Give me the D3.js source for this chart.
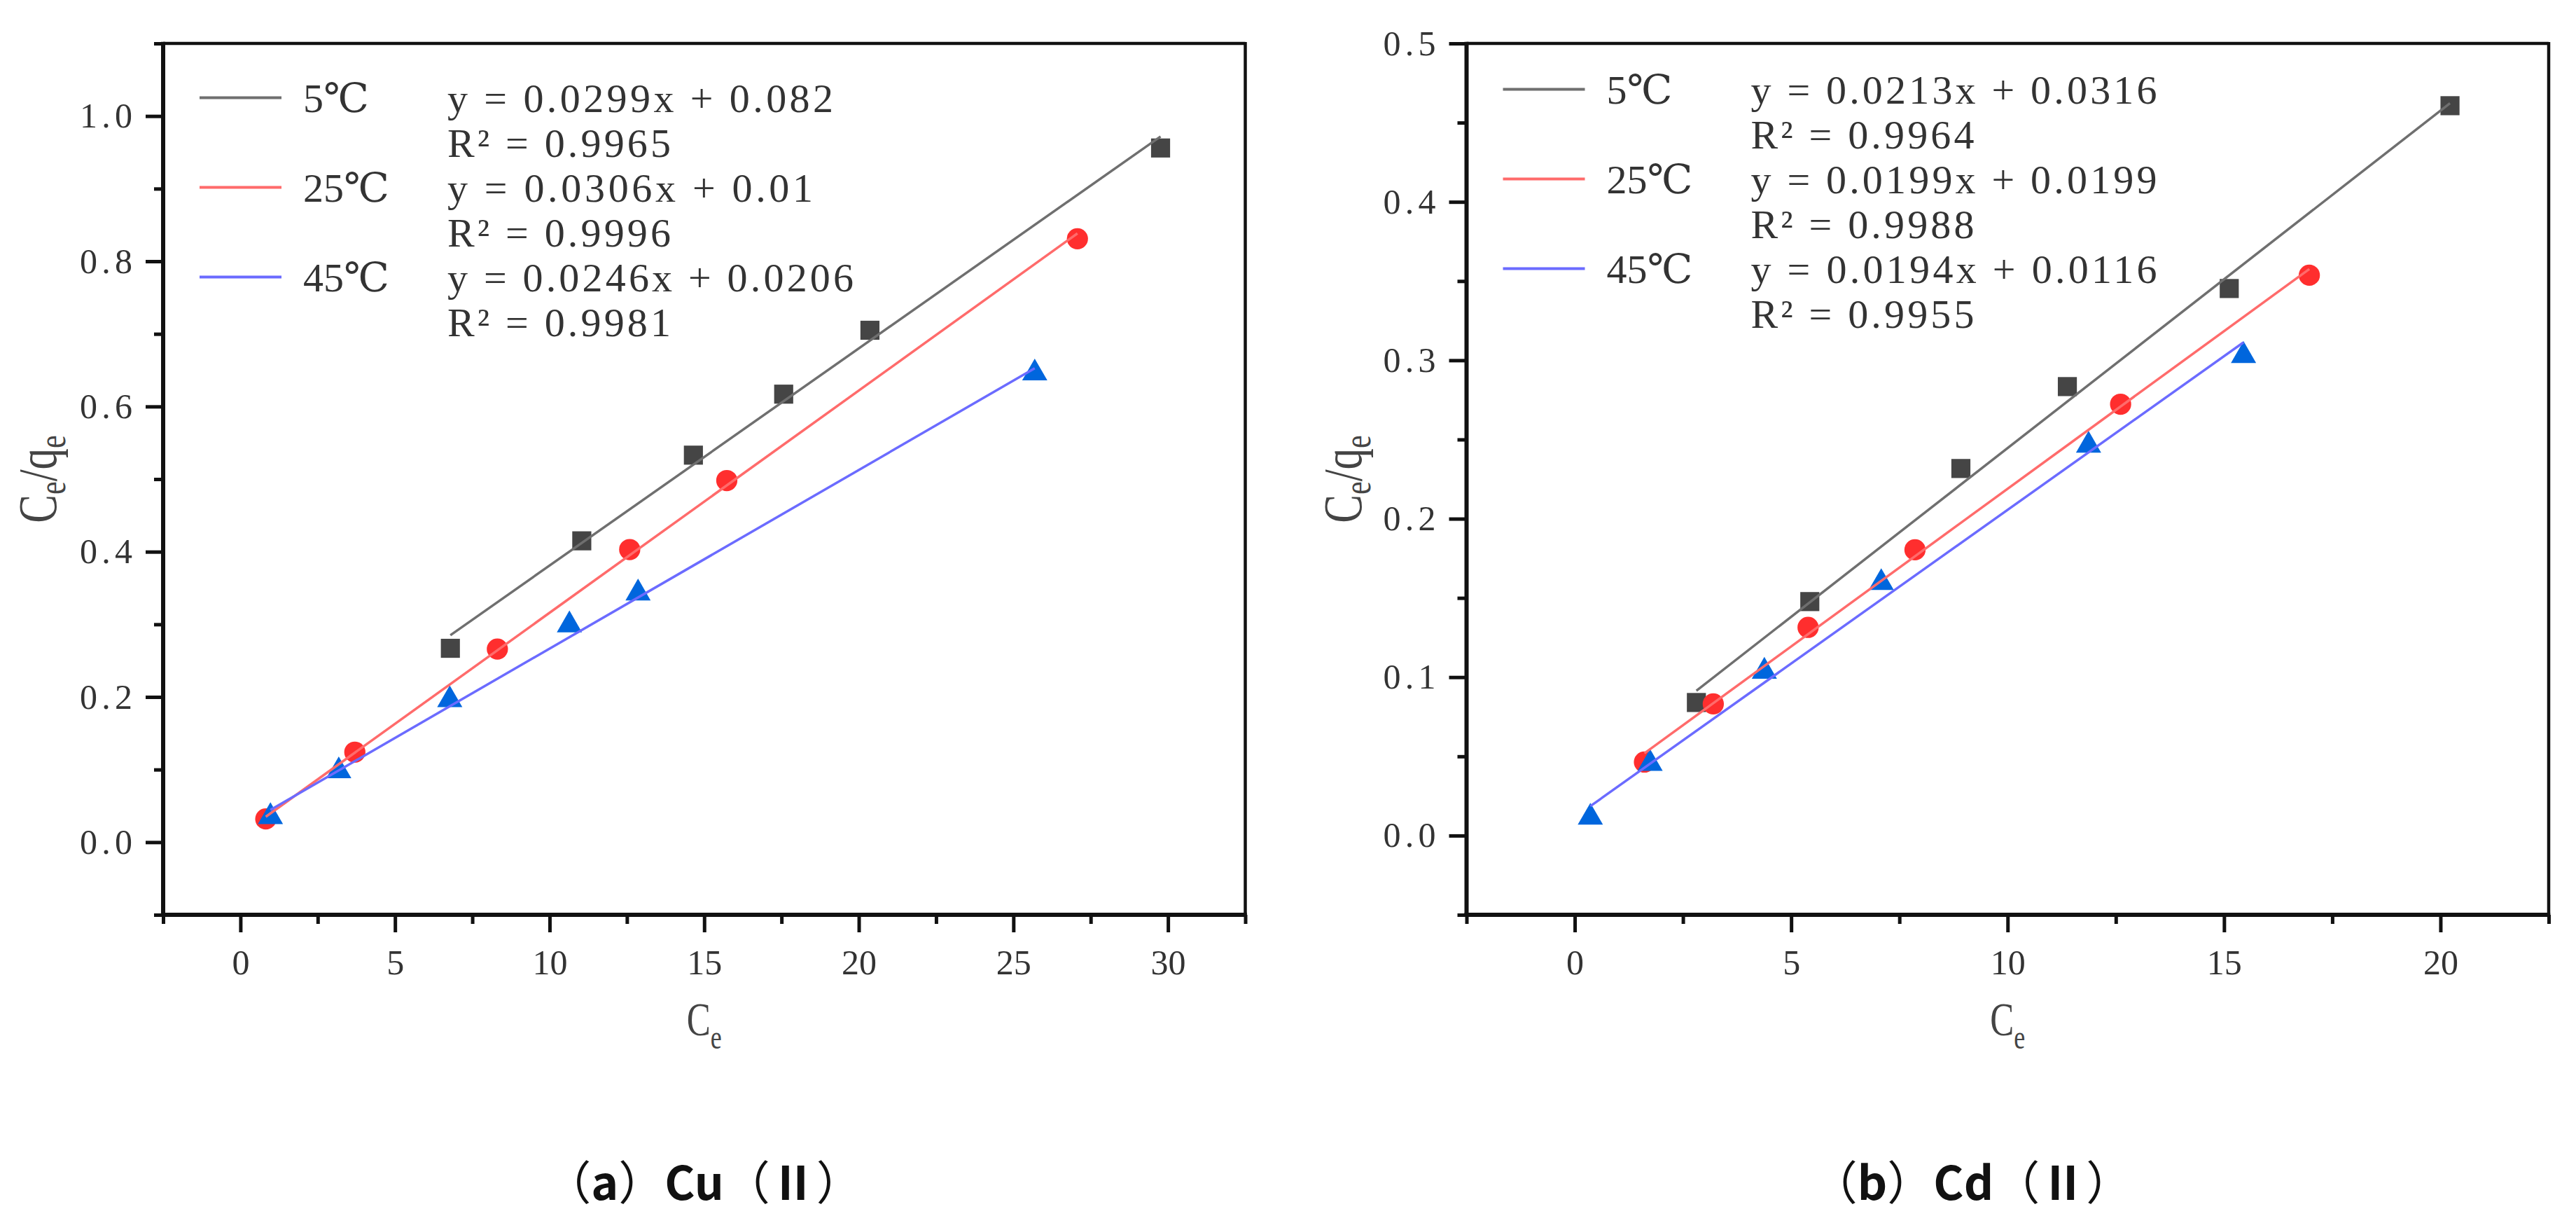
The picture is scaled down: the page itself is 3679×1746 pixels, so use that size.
<!DOCTYPE html>
<html><head><meta charset="utf-8">
<script src="https://cdn.jsdelivr.net/npm/d3@7"></script>
<style>body{margin:0;background:#fff}svg{display:block}</style>
</head><body>
<script>
// ---------------- data ----------------
const tempLabels = ["5℃", "25℃", "45℃"];

// (a) Cu(II)
const cuX5  = [6.79, 11.04, 14.65, 17.57, 20.36, 29.76];
const cuY5  = [0.267, 0.415, 0.533, 0.617, 0.705, 0.956];
const cuX25 = [0.82, 3.70, 8.31, 12.59, 15.73, 27.07];
const cuY25 = [0.032, 0.124, 0.266, 0.403, 0.498, 0.831];
const cuX45 = [0.97, 3.18, 6.77, 10.64, 12.86, 25.69];
const cuY45 = [0.035, 0.098, 0.196, 0.299, 0.343, 0.646];
const cuSlope = [0.0299, 0.0306, 0.0246];
const cuIntercept = [0.082, 0.01, 0.0206];
const cuR2 = ["0.9965", "0.9996", "0.9981"];
const cuXTicks = [0, 5, 10, 15, 20, 25, 30];
const cuYTicks = [0.0, 0.2, 0.4, 0.6, 0.8, 1.0];

// (b) Cd(II)
const cdX5  = [2.81, 5.43, 8.92, 11.38, 15.12, 20.22];
const cdY5  = [0.084, 0.1477, 0.2317, 0.2834, 0.3453, 0.4607];
const cdX25 = [1.61, 3.20, 5.39, 7.86, 12.61, 16.97];
const cdY25 = [0.0464, 0.0831, 0.1314, 0.1804, 0.2723, 0.3537];
const cdX45 = [0.36, 1.74, 4.38, 7.08, 11.87, 15.45];
const cdY45 = [0.0115, 0.0455, 0.1036, 0.1596, 0.2463, 0.3029];
const cdSlope = [0.0213, 0.0199, 0.0194];
const cdIntercept = [0.0316, 0.0199, 0.0116];
const cdR2 = ["0.9964", "0.9988", "0.9955"];
const cdXTicks = [0, 5, 10, 15, 20];
const cdYTicks = [0.0, 0.1, 0.2, 0.3, 0.4, 0.5];

const captionParts = [["（", "a", "）", "Cu", "（", "Ⅱ", "）"],
                      ["（", "b", "）", "Cd", "（", "Ⅱ", "）"]];

// ---------------- styles ----------------
const lineColors = ["#6f6f6f", "#ff6b6b", "#6b6bff"];
const markColors = ["#454545", "#ff2e2e", "#0066dd"];
const markShapes = [d3.symbolSquare, d3.symbolCircle, d3.symbolTriangle];
const markSizes = [740, 720, 560];
const SERIF = "'Liberation Serif','DejaVu Serif','Times New Roman',serif";

const W = 3679, H = 1746;
const svg = d3.select("body").append("svg").attr("width", W).attr("height", H)
  .attr("viewBox", `0 0 ${W} ${H}`);

const panels = [
  {x0: 233, x1: 1778.5, y0: 62, y1: 1306, xdom: [-2.5, 32.5], ydom: [-0.1, 1.1],
   xTicks: cuXTicks, yTicks: cuYTicks, xMinorStep: 2.5, yMinorStep: 0.1,
   xs: [cuX5, cuX25, cuX45], ys: [cuY5, cuY25, cuY45],
   slope: cuSlope, intercept: cuIntercept, r2: cuR2,
   legBase: 160, capX: 1005, caption: captionParts[0], ylabX: 80},
  {x0: 2094.5, x1: 3640, y0: 62, y1: 1306, xdom: [-2.5, 22.5], ydom: [-0.05, 0.5],
   xTicks: cdXTicks, yTicks: cdYTicks, xMinorStep: 2.5, yMinorStep: 0.05,
   xs: [cdX5, cdX25, cdX45], ys: [cdY5, cdY25, cdY45],
   slope: cdSlope, intercept: cdIntercept, r2: cdR2,
   legBase: 148, capX: 2816, caption: captionParts[1], ylabX: 1944}
];

function styleTickText(sel, charW) {
  sel.selectAll("text")
    .attr("font-family", SERIF).attr("font-size", 50).attr("fill", "#333")
    .each(function() {
      const t = d3.select(this);
      const n = t.text().length;
      if (n > 1) t.attr("textLength", n * charW).attr("lengthAdjust", "spacing");
    });
}

panels.forEach(p => {
  const x = d3.scaleLinear().domain(p.xdom).range([p.x0, p.x1]);
  const y = d3.scaleLinear().domain(p.ydom).range([p.y1, p.y0]);
  const g = svg.append("g");

  const eps = 1e-9;
  const xMinor = d3.range(p.xdom[0], p.xdom[1] + eps, p.xMinorStep)
    .filter(v => !p.xTicks.some(t => Math.abs(t - v) < 1e-6));
  const yMinor = d3.range(p.ydom[0], p.ydom[1] + eps, p.yMinorStep)
    .filter(v => !p.yTicks.some(t => Math.abs(t - v) < 1e-6));

  // minor ticks
  const gxm = g.append("g").attr("transform", `translate(0,${p.y1})`)
    .call(d3.axisBottom(x).tickValues(xMinor).tickSize(13).tickFormat(""));
  const gym = g.append("g").attr("transform", `translate(${p.x0},0)`)
    .call(d3.axisLeft(y).tickValues(yMinor).tickSize(13).tickFormat(""));
  // major ticks
  const gx = g.append("g").attr("transform", `translate(0,${p.y1})`)
    .call(d3.axisBottom(x).tickValues(p.xTicks).tickSize(25).tickPadding(24)
      .tickFormat(d3.format("d")));
  const gy = g.append("g").attr("transform", `translate(${p.x0},0)`)
    .call(d3.axisLeft(y).tickValues(p.yTicks).tickSize(25).tickPadding(19)
      .tickFormat(d3.format(".1f")));
  [gxm, gym, gx, gy].forEach(a => {
    a.select(".domain").remove();
    a.selectAll(".tick line").attr("stroke", "#111").attr("stroke-width", 5);
  });
  styleTickText(gx, 25);
  styleTickText(gy, 25);

  // frame
  g.append("line").attr("x1", p.x0).attr("x2", p.x1).attr("y1", p.y0).attr("y2", p.y0)
    .attr("stroke", "#111").attr("stroke-width", 4.5);
  g.append("line").attr("x1", p.x1).attr("x2", p.x1).attr("y1", p.y0 - 2).attr("y2", p.y1)
    .attr("stroke", "#111").attr("stroke-width", 4.5);
  g.append("line").attr("x1", p.x0).attr("x2", p.x0).attr("y1", p.y0 - 2.2).attr("y2", p.y1 + 3)
    .attr("stroke", "#111").attr("stroke-width", 6);
  g.append("line").attr("x1", p.x0 - 3).attr("x2", p.x1 + 2.2).attr("y1", p.y1).attr("y2", p.y1)
    .attr("stroke", "#111").attr("stroke-width", 6);

  // markers
  p.xs.forEach((xsArr, i) => {
    const pts = xsArr.map((v, k) => [v, p.ys[i][k]]);
    g.append("g").selectAll("path").data(pts).join("path")
      .attr("d", d3.symbol().type(markShapes[i]).size(markSizes[i]))
      .attr("transform", d => `translate(${x(d[0])},${y(d[1])})`)
      .attr("fill", markColors[i]);
  });
  // fit lines (from legend equations over each series' x range)
  const line = d3.line().x(d => x(d[0])).y(d => y(d[1]));
  p.xs.forEach((xsArr, i) => {
    const ext = d3.extent(xsArr);
    const seg = ext.map(v => [v, p.slope[i] * v + p.intercept[i]]);
    g.append("path").attr("d", line(seg)).attr("fill", "none")
      .attr("stroke", lineColors[i]).attr("stroke-width", 3.5);
  });

  // legend
  const leg = g.append("g");
  tempLabels.forEach((lab, i) => {
    const base = p.legBase + i * 128;
    leg.append("line").attr("x1", p.x0 + 52).attr("x2", p.x0 + 169)
      .attr("y1", base - 20.5).attr("y2", base - 20.5)
      .attr("stroke", lineColors[i]).attr("stroke-width", 4);
    leg.append("text").attr("x", p.x0 + 200).attr("y", base)
      .attr("font-family", SERIF).attr("font-size", 58).attr("fill", "#333").text(lab);
    const eq = `y = ${p.slope[i]}x + ${p.intercept[i]}`;
    leg.append("text").attr("x", p.x0 + 406).attr("y", base)
      .attr("font-family", SERIF).attr("font-size", 58).attr("fill", "#333")
      .attr("textLength", eq.length * 29).attr("lengthAdjust", "spacing")
      .attr("xml:space", "preserve").text(eq);
    const r2 = `R² = ${p.r2[i]}`;
    leg.append("text").attr("x", p.x0 + 406).attr("y", base + 64)
      .attr("font-family", SERIF).attr("font-size", 58).attr("fill", "#333")
      .attr("textLength", r2.length * 29).attr("lengthAdjust", "spacing")
      .text(r2);
  });

  // axis titles
  const cx = (p.x0 + p.x1) / 2, cy = (p.y0 + p.y1) / 2;
  const xl = g.append("text").attr("transform", `translate(${cx},1478) scale(0.75,1)`)
    .attr("text-anchor", "middle").attr("font-family", SERIF).attr("fill", "#444")
    .attr("font-size", 68);
  xl.append("tspan").text("C");
  xl.append("tspan").attr("font-size", 48).attr("dy", 19).text("e");

  const yl = g.append("text")
    .attr("transform", `translate(${p.ylabX},${cy}) rotate(-90) scale(0.78,1)`)
    .attr("text-anchor", "middle").attr("font-family", SERIF).attr("fill", "#444")
    .attr("font-size", 78);
  yl.append("tspan").text("C");
  yl.append("tspan").attr("font-size", 54).attr("dy", 13).text("e");
  yl.append("tspan").attr("dy", -13).text("/q");
  yl.append("tspan").attr("font-size", 54).attr("dy", 13).text("e");

  // caption: letters bold, full-width parentheses regular weight
  const cap = svg.append("text").attr("x", p.capX).attr("y", 1713).attr("text-anchor", "middle")
    .attr("font-family", "'Noto Sans CJK SC',sans-serif")
    .attr("font-size", 66).attr("fill", "#111");
  p.caption.forEach(s => {
    cap.append("tspan").attr("font-weight", /[（）]/.test(s) ? 400 : 700).text(s);
  });
});
</script>
</body></html>
